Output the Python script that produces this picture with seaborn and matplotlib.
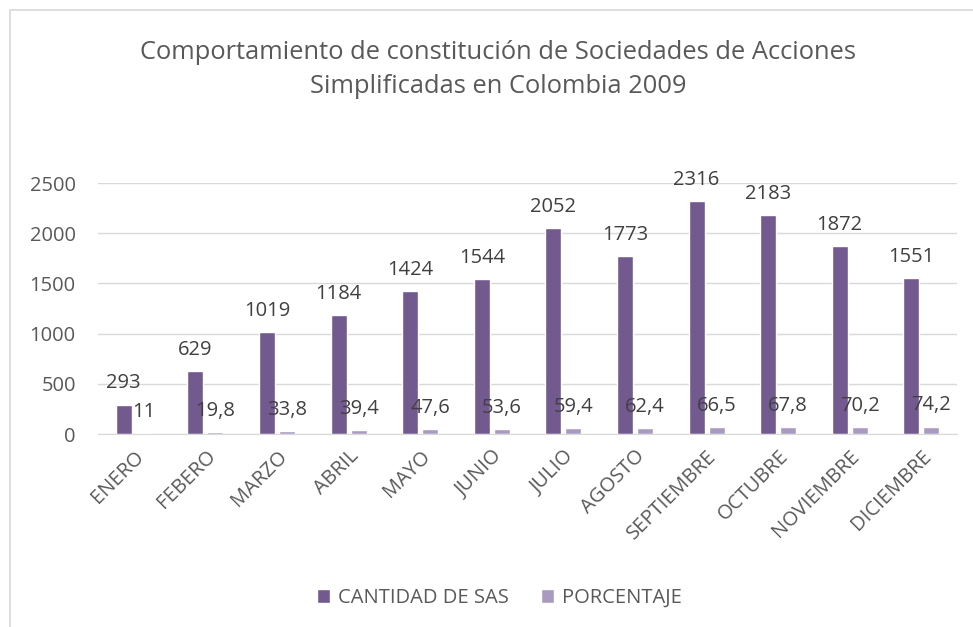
import numpy as np
import pandas as pd
import matplotlib.pyplot as plt
import seaborn as sns
from matplotlib.patches import Rectangle

meses = ["ENERO", "FEBERO", "MARZO", "ABRIL", "MAYO", "JUNIO", "JULIO",
         "AGOSTO", "SEPTIEMBRE", "OCTUBRE", "NOVIEMBRE", "DICIEMBRE"]
cantidad_sas = [293, 629, 1019, 1184, 1424, 1544, 2052, 1773, 2316, 2183, 1872, 1551]
porcentaje = [11, 19.8, 33.8, 39.4, 47.6, 53.6, 59.4, 62.4, 66.5, 67.8, 70.2, 74.2]
series = ["CANTIDAD DE SAS", "PORCENTAJE"]
colores = ["#72598e", "#a99bbf"]

df = pd.DataFrame({
    "mes": meses * 2,
    "valor": cantidad_sas + porcentaje,
    "serie": [series[0]] * len(meses) + [series[1]] * len(meses),
})

sns.set_style("white")
plt.rcParams["font.family"] = ["Open Sans", "DejaVu Sans"]
txt = "#595959"

fig = plt.figure(figsize=(9.73, 6.27), dpi=100)
ax = fig.add_axes([0.1007, 0.3078, 0.883, 0.4003])

sns.barplot(data=df, x="mes", y="valor", hue="serie", palette=colores,
            width=0.56, gap=0.2, ax=ax, legend=True, saturation=1)

def fmt(v):
    s = f"{v:g}"
    return s.replace(".", ",")

for cont in ax.containers:
    ax.bar_label(cont, labels=[fmt(b.get_height()) for b in cont],
                 padding=8, fontsize=14.5, color="#404040")

ax.set_ylim(0, 2500)
ax.set_yticks([0, 500, 1000, 1500, 2000, 2500])
ax.set_xlabel("")
ax.set_ylabel("")
ax.grid(axis="y", color="#d9d9d9", linewidth=1)
ax.set_axisbelow(True)
for s in ["top", "right", "left"]:
    ax.spines[s].set_visible(False)
ax.spines["bottom"].set_color("#d9d9d9")
ax.tick_params(axis="both", length=0, colors=txt, labelsize=14.5)
ax.tick_params(axis="y", pad=16)
ax.tick_params(axis="x", pad=9)
plt.setp(ax.get_xticklabels(), rotation=45, ha="right", rotation_mode="anchor")

handles, labels = ax.get_legend_handles_labels()
ax.legend(handles, labels, loc="center", bbox_to_anchor=(0.513, 0.046),
          bbox_transform=fig.transFigure, ncol=2, frameon=False,
          fontsize=14.5, labelcolor=txt, handlelength=0.65, handleheight=0.65,
          columnspacing=1.6, handletextpad=0.4)

fig.text(0.512, 0.889, "Comportamiento de constitución de Sociedades de Acciones\nSimplificadas en Colombia 2009",
         ha="center", va="center", fontsize=18.4, color=txt, linespacing=1.45)

fig.patches.append(Rectangle((0.0103, -0.01), 1.0, 0.994, transform=fig.transFigure,
                             fill=False, edgecolor="#d9d9d9", linewidth=1.2))

fig.savefig("out.png", dpi=100)
